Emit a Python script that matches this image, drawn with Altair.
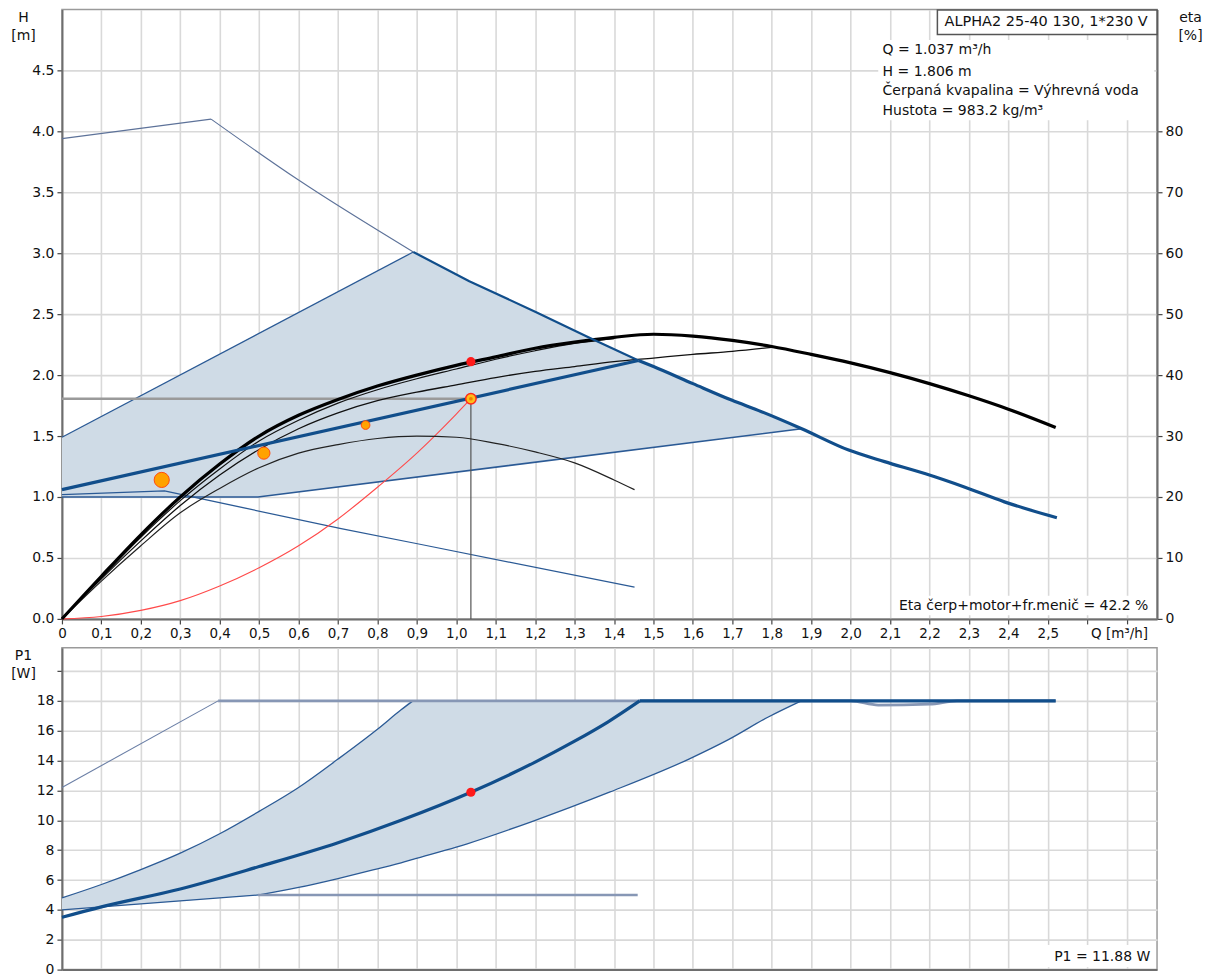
import altair as alt
import pandas as pd

FONT = "DejaVu Sans"
QMAX = 2.777

# ---------------- top chart (H [m]) ----------------
q_main = [0, 0.1, 0.2, 0.3, 0.4, 0.5, 0.6, 0.7, 0.8, 0.9, 1.0, 1.1, 1.2, 1.3, 1.4, 1.5, 1.6, 1.7, 1.8, 1.9, 2.0, 2.1, 2.2, 2.3, 2.4, 2.52]
h_main = [0, 0.35, 0.69, 1.0, 1.27, 1.5, 1.67, 1.8, 1.91, 2.0, 2.08, 2.15, 2.22, 2.27, 2.31, 2.335, 2.32, 2.285, 2.235, 2.17, 2.10, 2.02, 1.93, 1.83, 1.72, 1.57]

q_b = [0, 0.1, 0.2, 0.3, 0.4, 0.5, 0.6, 0.7, 0.8, 0.9, 1.0, 1.1, 1.2, 1.3, 1.4]
h_b = [0, 0.34, 0.67, 0.97, 1.23, 1.46, 1.63, 1.77, 1.88, 1.97, 2.05, 2.13, 2.2, 2.26, 2.30]

q_c = [0, 0.1, 0.2, 0.3, 0.4, 0.5, 0.6, 0.7, 0.8, 0.9, 1.0, 1.1, 1.2, 1.3, 1.4, 1.5, 1.6, 1.7, 1.8]
h_c = [0, 0.33, 0.64, 0.93, 1.18, 1.39, 1.56, 1.69, 1.79, 1.86, 1.92, 1.98, 2.03, 2.07, 2.11, 2.14, 2.17, 2.195, 2.228]

q_e = [0, 0.1, 0.2, 0.3, 0.4, 0.5, 0.6, 0.7, 0.8, 0.9, 1.0, 1.1, 1.2, 1.3, 1.4, 1.452]
h_e = [0, 0.31, 0.6, 0.87, 1.07, 1.24, 1.36, 1.43, 1.48, 1.5, 1.49, 1.44, 1.37, 1.28, 1.14, 1.06]

q_minh = [0, 0.26, 0.708, 0.911, 1.452]
h_minh = [1.02, 1.05, 0.74, 0.61, 0.26]

q_maxh_a = [0, 0.378]
h_maxh_a = [3.94, 4.10]
q_maxh_b = [0.378, 0.6, 0.891]
h_maxh_b = [4.10, 3.60, 3.01]

q_shade = [0, 0.497, 0.891, 1.033, 1.2, 1.335, 1.462, 1.5, 1.6, 1.698, 1.774, 1.876]
h_shade_hi = [1.49, 2.34, 3.01, 2.77, 2.52, 2.31, 2.12, 2.07, 1.93, 1.795, 1.70, 1.56]
h_shade_lo = [1.0, 1.0, 1.16, 1.22, 1.29, 1.34, 1.39, 1.41, 1.45, 1.49, 1.52, 1.56]

q_upedge = [0, 0.891]
h_upedge = [1.49, 3.01]
q_loedge = [0, 0.497, 1.876]
h_loedge = [1.0, 1.0, 1.56]

q_op_a = [0, 1.462]
h_op_a = [1.06, 2.12]
q_op_b = [1.462, 1.5, 1.6, 1.698, 1.774, 1.876, 1.995, 2.086, 2.19, 2.29, 2.39, 2.523]
h_op_b = [2.12, 2.07, 1.93, 1.795, 1.70, 1.56, 1.385, 1.29, 1.19, 1.08, 0.96, 0.83]

q_mx = [0.891, 1.033, 1.2, 1.335, 1.462]
h_mx = [3.01, 2.77, 2.52, 2.31, 2.12]

q_sys = [0, 0.1, 0.2, 0.3, 0.4, 0.5, 0.6, 0.7, 0.8, 0.9, 1.0, 1.037]
h_sys = [0, 0.02, 0.07, 0.15, 0.27, 0.42, 0.6, 0.82, 1.08, 1.36, 1.68, 1.806]

q_duty = 1.037
h_duty = 1.806
h_duty_curve = 2.11

q_orange = [0.253, 0.512, 0.77]
h_orange = [1.14, 1.36, 1.59]
s_orange = [230, 150, 75]

eta_ticks = [0, 10, 20, 30, 40, 50, 60, 70, 80]
h_ticks = [0, 0.5, 1.0, 1.5, 2.0, 2.5, 3.0, 3.5, 4.0, 4.5]
q_ticks = [round(i * 0.1, 1) for i in range(28)]

# ---------------- bottom chart (P1 [W]) ----------------
q_p_shade = [0, 0.1, 0.2, 0.3, 0.4, 0.5, 0.6, 0.7, 0.8, 0.86, 0.89, 1.0, 1.19, 1.39, 1.59, 1.69, 1.79, 1.875]
p_shade_hi = [4.8, 5.7, 6.7, 7.8, 9.1, 10.6, 12.2, 14.1, 16.1, 17.4, 18, 18, 18, 18, 18, 18, 18, 18]
p_shade_lo = [4.0, 4.2, 4.4, 4.6, 4.8, 5.0, 5.5, 6.1, 6.75, 7.15, 7.38, 8.2, 9.9, 11.9, 14.1, 15.4, 16.9, 18.0]

q_p_op_a = [0, 0.1, 0.3, 0.5, 0.7, 0.86, 1.037, 1.2, 1.3, 1.385, 1.465]
p_op_a = [3.5, 4.2, 5.4, 6.9, 8.5, 10.0, 11.88, 13.9, 15.3, 16.6, 18.0]
q_p_op_b = [1.465, 2.52]
p_op_b = [18.0, 18.0]

q_p_max = [0, 0.396]
p_max = [12.2, 18.0]
q_p_flat = [0.396, 2.0, 2.07, 2.2, 2.27, 2.52]
p_flat = [18, 18, 17.72, 17.78, 18, 18]
q_p_min = [0.497, 1.46]
p_min = [5.0, 5.0]

p_ticks = [0, 2, 4, 6, 8, 10, 12, 14, 16, 18, 20]

# ---------------- styles ----------------
DARKBLUE = "#114e8b"
THINBLUE = "#2b5a95"
GREYBLUE = "#8797b5"
SHADE = "#cfdbe6"

lab_expr = "datum.value > 2.55 ? '' : (datum.value == 0 ? '0' : replace(format(datum.value, '.1f'), '.', ','))"

top_xaxis = alt.Axis(values=q_ticks, labelExpr=lab_expr, labelFlush=False, labelFontSize=13.5,
                     tickSize=5, labelPadding=3, grid=True,
                     title="Q [m³/h]", titleX=1058, titleY=8, titleAlign="center",
                     titleBaseline="top", titleFontSize=13.5)
top_yaxis = alt.Axis(values=h_ticks, format=".1f", tickSize=5, labelPadding=3, grid=True,
                     title=["H", "[m]"], titleAngle=0, titleX=-39, titleY=1,
                     titleAlign="center", titleBaseline="top", titleLineHeight=18)
eta_axis = alt.Axis(values=eta_ticks, orient="right", tickSize=5, labelPadding=3, grid=False,
                    title=["eta", "[%]"], titleAngle=0, titleX=33, titleY=1,
                    titleAlign="center", titleBaseline="top", titleLineHeight=18)

xT = alt.X("Q:Q", scale=alt.Scale(domain=[0, QMAX], nice=False, zero=False), axis=top_xaxis)
yT = alt.Y("H:Q", scale=alt.Scale(domain=[0, 5], nice=False), axis=top_yaxis)


def tdf(q, h):
    return pd.DataFrame({"Q": q, "H": h})


def tline(q, h, color, width, smooth=False):
    return alt.Chart(tdf(q, h)).mark_line(
        color=color, strokeWidth=width, strokeJoin="round",
        interpolate="monotone" if smooth else "linear").encode(x=xT, y=yT)


shade_top = alt.Chart(pd.DataFrame({"Q": q_shade, "H": h_shade_hi, "H2": h_shade_lo})).mark_area(
    color=SHADE, opacity=1).encode(x=xT, y=yT, y2=alt.Y2("H2:Q"))

bg_top = alt.Chart(pd.DataFrame({
    "Q": [2.07, 2.12], "Q2": [2.77, 2.77], "H": [4.09, 0.03], "H2": [4.75, 0.19]})).mark_rect(
    color="white").encode(x=xT, x2=alt.X2("Q2:Q"), y=yT, y2=alt.Y2("H2:Q"))

box_top = alt.Chart(pd.DataFrame({"Q": [2.22], "Q2": [QMAX], "H": [4.795], "H2": [4.995]})).mark_rect(
    fill="white", stroke="#555555", strokeWidth=1.5).encode(x=xT, x2=alt.X2("Q2:Q"), y=yT, y2=alt.Y2("H2:Q"))

guide_h = alt.Chart(pd.DataFrame({"Q": [0], "Q2": [q_duty], "H": [h_duty]})).mark_rule(
    color="#9a9a9a", strokeWidth=2.5).encode(x=xT, x2=alt.X2("Q2:Q"), y=yT)
guide_v = alt.Chart(pd.DataFrame({"Q": [q_duty], "H": [0], "H2": [h_duty]})).mark_rule(
    color="#555555", strokeWidth=1.2).encode(x=xT, y=yT, y2=alt.Y2("H2:Q"))

orange_pts = alt.Chart(pd.DataFrame({"Q": q_orange, "H": h_orange, "S": s_orange})).mark_circle(
    fill="#ffa200", stroke="#ff4a10", strokeWidth=1, opacity=1).encode(
    x=xT, y=yT, size=alt.Size("S:Q", scale=None, legend=None))
duty_pt = alt.Chart(tdf([q_duty], [h_duty])).mark_circle(
    fill="#ffbe1a", stroke="#ff2a1a", strokeWidth=1.5, opacity=1, size=110).encode(x=xT, y=yT)
duty_inner = alt.Chart(tdf([q_duty], [h_duty])).mark_circle(
    fill="#f08000", opacity=1, size=14).encode(x=xT, y=yT)
red_pt = alt.Chart(tdf([q_duty], [h_duty_curve])).mark_circle(
    fill="#ff1a1a", opacity=1, size=85).encode(x=xT, y=yT)

txt_left = alt.Chart(pd.DataFrame({
    "Q": [2.081, 2.081, 2.081, 2.081],
    "H": [4.664, 4.49, 4.33, 4.168],
    "T": ["Q = 1.037 m³/h", "H = 1.806 m", "Čerpaná kvapalina = Výhrevná voda", "Hustota = 983.2 kg/m³"]})
).mark_text(align="left", baseline="middle", font=FONT, fontSize=14, color="#111111").encode(
    x=xT, y=yT, text="T:N")
txt_box = alt.Chart(pd.DataFrame({"Q": [2.238], "H": [4.898], "T": ["ALPHA2 25-40 130, 1*230 V"]})).mark_text(
    align="left", baseline="middle", font=FONT, fontSize=14.5, color="#111111").encode(x=xT, y=yT, text="T:N")
txt_eta = alt.Chart(pd.DataFrame({"Q": [2.755], "H": [0.107], "T": ["Eta čerp+motor+fr.menič = 42.2 %"]})).mark_text(
    align="right", baseline="middle", font=FONT, fontSize=14, color="#111111").encode(x=xT, y=yT, text="T:N")

inner_top = alt.layer(
    bg_top,
    shade_top,
    tline(q_upedge, h_upedge, THINBLUE, 1.3),
    tline(q_loedge, h_loedge, THINBLUE, 1.6),
    tline(q_maxh_a, h_maxh_a, "#5d7299", 1.1),
    tline(q_maxh_b, h_maxh_b, "#5d7299", 1.1, smooth=True),
    tline(q_minh, h_minh, THINBLUE, 1.2),
    tline(q_sys, h_sys, "#ff4a4a", 1.1, smooth=True),
    guide_h,
    guide_v,
    tline(q_e, h_e, "#222222", 1.2, smooth=True),
    tline(q_c, h_c, "#111111", 1.3, smooth=True),
    tline(q_b, h_b, "#111111", 1.2, smooth=True),
    tline(q_main, h_main, "#000000", 3.2, smooth=True),
    tline(q_mx, h_mx, DARKBLUE, 2.2),
    tline(q_op_a, h_op_a, DARKBLUE, 3.2),
    tline(q_op_b, h_op_b, DARKBLUE, 3.2, smooth=True),
    orange_pts,
    duty_pt,
    duty_inner,
    red_pt,
    box_top,
    txt_box,
    txt_left,
    txt_eta,
)

eta_layer = alt.Chart(pd.DataFrame({"eta": [0, 50]})).mark_point(opacity=0, size=1).encode(
    y=alt.Y("eta:Q", scale=alt.Scale(domain=[0, 100], nice=False), axis=eta_axis))

top = alt.layer(inner_top, eta_layer).resolve_scale(y="independent").properties(width=1096, height=610)

# ---------------- bottom chart ----------------
bot_xaxis = alt.Axis(values=q_ticks, labels=False, ticks=False, grid=True, title=None)
bot_yaxis = alt.Axis(values=p_ticks, labelExpr="datum.value > 19 ? '' : datum.value", tickSize=5,
                     labelPadding=3, grid=True,
                     title=["P1", "[W]"], titleAngle=0, titleX=-39, titleY=1,
                     titleAlign="center", titleBaseline="top", titleLineHeight=18)
xB = alt.X("Q:Q", scale=alt.Scale(domain=[0, QMAX], nice=False, zero=False), axis=bot_xaxis)
yB = alt.Y("P:Q", scale=alt.Scale(domain=[0, 21.55], nice=False), axis=bot_yaxis)


def bline(q, p, color, width, smooth=False):
    return alt.Chart(pd.DataFrame({"Q": q, "P": p})).mark_line(
        color=color, strokeWidth=width, strokeJoin="round",
        interpolate="monotone" if smooth else "linear").encode(x=xB, y=yB)


shade_bot = alt.Chart(pd.DataFrame({"Q": q_p_shade, "P": p_shade_hi, "P2": p_shade_lo})).mark_area(
    color=SHADE, opacity=1, interpolate="monotone").encode(x=xB, y=yB, y2=alt.Y2("P2:Q"))
bg_bot = alt.Chart(pd.DataFrame({"Q": [2.43], "Q2": [2.77], "P": [0.15], "P2": [1.65]})).mark_rect(
    color="white").encode(x=xB, x2=alt.X2("Q2:Q"), y=yB, y2=alt.Y2("P2:Q"))
red_bot = alt.Chart(pd.DataFrame({"Q": [q_duty], "P": [11.88]})).mark_circle(
    fill="#ff1a1a", opacity=1, size=85).encode(x=xB, y=yB)
txt_p1 = alt.Chart(pd.DataFrame({"Q": [2.76], "P": [0.87], "T": ["P1 = 11.88 W"]})).mark_text(
    align="right", baseline="middle", font=FONT, fontSize=14, color="#111111").encode(x=xB, y=yB, text="T:N")

bottom = alt.layer(
    bg_bot,
    shade_bot,
    bline(q_p_shade[:11], p_shade_hi[:11], THINBLUE, 1.3, smooth=True),
    bline(q_p_shade[5:], p_shade_lo[5:], THINBLUE, 1.3, smooth=True),
    bline(q_p_shade[:6], p_shade_lo[:6], THINBLUE, 1.3),
    bline(q_p_max, p_max, "#6b7fa6", 1.1),
    bline(q_p_flat, p_flat, GREYBLUE, 2.8, smooth=True),
    bline(q_p_min, p_min, GREYBLUE, 2.5),
    bline(q_p_op_a, p_op_a, DARKBLUE, 3.2, smooth=True),
    bline(q_p_op_b, p_op_b, DARKBLUE, 3.2),
    red_bot,
    txt_p1,
).properties(width=1096, height=322)

chart = alt.vconcat(top, bottom, spacing=29, bounds="flush").properties(
    padding={"left": 1, "top": 0, "right": 0, "bottom": 0}
).configure_axis(
    labelFont=FONT, titleFont=FONT, labelFontSize=14, titleFontSize=14,
    labelColor="#111111", titleColor="#111111", titleFontWeight="normal",
    domainColor="#6e6e6e", domainWidth=2, tickColor="#444444", tickWidth=1.2,
    gridColor="#d9d9d9", gridWidth=1.6
).configure_view(
    stroke="#9a9a9a", strokeWidth=1.5
).configure_text(font=FONT)

chart.save("out.html", embed_options={"renderer": "svg", "actions": False})
